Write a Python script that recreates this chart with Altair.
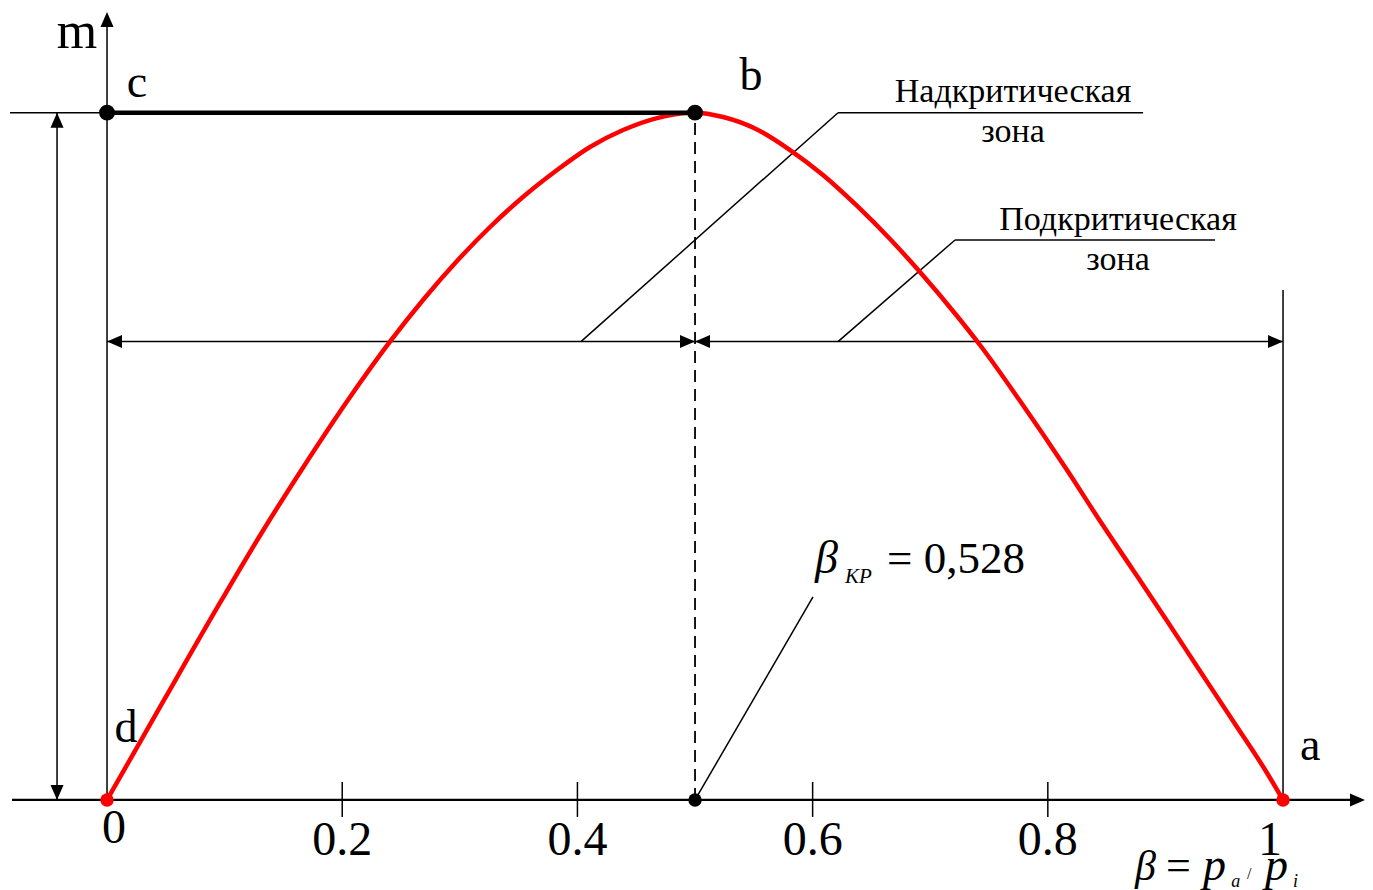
import altair as alt
import pandas as pd

# ---------------- data ----------------
# flow function m(β)
beta = [0.0, 0.0485, 0.0975, 0.1335, 0.1692, 0.2049, 0.2406, 0.2687, 0.2976, 0.3257,
        0.3537, 0.3827, 0.4107, 0.4388, 0.4677, 0.4932, 0.5,
        0.5238, 0.5527, 0.5808, 0.6088, 0.6378, 0.6658, 0.6913, 0.7228, 0.7423,
        0.7764, 0.8163, 0.8444, 0.8724, 0.9014, 0.9294, 0.9575, 0.9864, 1.0]
m = [0.0, 0.1455, 0.2910, 0.3943, 0.4904, 0.5820, 0.6668, 0.7275, 0.7842, 0.8337,
     0.8773, 0.9166, 0.9501, 0.9748, 0.9922, 0.9997, 1.0,
     0.9937, 0.9756, 0.9457, 0.9094, 0.8643, 0.8162, 0.7682, 0.7042, 0.6620,
     0.5805, 0.4801, 0.4059, 0.3346, 0.2604, 0.1877, 0.1149, 0.0393, 0.0]

beta_cr = 0.5     # point b and the dashed line
m_max = 1.0       # level of c-b
m_zone = 0.667    # level of the zone dimension arrows

tick_values = [0.2, 0.4, 0.6, 0.8]
tick_labels = ["0.2", "0.4", "0.6", "0.8"]

# ---------------- frame ----------------
W, H = 1373, 890
xs = alt.Scale(domain=[-0.091, 1.0765], nice=False, zero=False)
ys = alt.Scale(domain=[-0.131, 1.164], nice=False, zero=False)
FONT = "Liberation Serif"


def X(f="x"):
    return alt.X(f"{f}:Q", scale=xs, axis=None)


def Y(f="y"):
    return alt.Y(f"{f}:Q", scale=ys, axis=None)


def segs(rows):
    return pd.DataFrame(rows, columns=["x", "y", "x2", "y2"])


def rule_layer(df, width, dash=None):
    kw = dict(color="black", strokeWidth=width, strokeCap="butt")
    if dash:
        kw["strokeDash"] = dash
    return alt.Chart(df).mark_rule(**kw).encode(
        x=X(), y=Y(), x2=alt.X2("x2:Q"), y2=alt.Y2("y2:Q"))


def text_layer(df, align, italic=False):
    return alt.Chart(df).mark_text(
        align=align, baseline="alphabetic", font=FONT,
        fontStyle="italic" if italic else "normal", color="black"
    ).encode(x=X(), y=Y(), text="t:N", size=alt.Size("fs:Q", scale=None))


# thin construction lines
thin = segs([
    (0.0, 0.0, 0.0, 1.135),                    # m axis
    (-0.0825, m_max, 0.0, m_max),              # extension of c-b to the left
    (-0.0425, 0.0, -0.0425, m_max),            # vertical dimension
    (0.0, m_zone, 1.0, m_zone),                # zone dimensions
    (1.0, 0.0, 1.0, 0.742),                    # boundary at β = 1
    (0.403, m_zone, 0.6216, m_max),            # leader: supercritical
    (0.6216, m_max, 0.881, m_max),
    (0.6216, m_zone, 0.7211, 0.8148),          # leader: subcritical
    (0.7211, 0.8148, 0.9422, 0.8148),
    (beta_cr, 0.0, 0.6003, 0.2954),            # leader: β_KP
] + [(v, -0.0247, v, 0.0262) for v in tick_values])

axis_x = segs([(-0.0808, 0.0, 1.062, 0.0)])
dashed = segs([(beta_cr, 0.0, beta_cr, m_max)])
thick = segs([(0.0, m_max, beta_cr, m_max)])

# arrowheads: tip at the symbol origin
ARROW = {
    "right": "M0,0L-2,-0.87L-2,0.87Z",
    "left": "M0,0L2,-0.87L2,0.87Z",
    "up": "M0,0L-0.87,2L0.87,2Z",
    "down": "M0,0L-0.87,-2L0.87,-2Z",
}
arrows = pd.DataFrame([
    (1.0697, 0.0, ARROW["right"]),
    (0.0, 1.1465, ARROW["up"]),
    (-0.0425, m_max, ARROW["up"]),
    (-0.0425, 0.0, ARROW["down"]),
    (0.0, m_zone, ARROW["left"]),
    (beta_cr, m_zone, ARROW["right"]),
    (beta_cr, m_zone, ARROW["left"]),
    (1.0, m_zone, ARROW["right"]),
], columns=["x", "y", "shape"])

big_dots = pd.DataFrame({"x": [0.0, beta_cr], "y": [m_max, m_max]})
small_black = pd.DataFrame({"x": [beta_cr], "y": [0.0]})
red_dots = pd.DataFrame({"x": [0.0, 1.0], "y": [0.0, 0.0]})

curve = pd.DataFrame({"x": beta, "y": m})

# texts
center_txt = pd.DataFrame([
    ("m", -0.0255, 1.0941, 52),
    ("c", 0.0255, 1.0229, 46),
    ("b", 0.5476, 1.0330, 46),
    ("d", 0.0162, 0.0844, 46),
    ("a", 1.0230, 0.0582, 46),
    ("Надкритическая", 0.7704, 1.0156, 34),
    ("зона", 0.7704, 0.9574, 34),
    ("Подкритическая", 0.8597, 0.8293, 34),
    ("зона", 0.8597, 0.7711, 34),
    ("0", 0.006, -0.0626, 48),
    ("1", 0.989, -0.080, 48),
] + [(t, v, -0.080, 48) for t, v in zip(tick_labels, tick_values)],
    columns=["t", "x", "y", "fs"])

left_regular = pd.DataFrame([
    ("= 0,528", 0.6633, 0.3303, 45),
    ("=", 0.9005, -0.1170, 44),
    ("/", 0.9694, -0.1149, 16),
], columns=["t", "x", "y", "fs"])

left_italic = pd.DataFrame([
    ("β", 0.6020, 0.3303, 46),
    ("KP", 0.6276, 0.3157, 21),
    ("β", 0.8741, -0.1164, 42),
    ("p", 0.9320, -0.1164, 46),
    ("a", 0.9560, -0.1266, 18),
    ("p", 0.9847, -0.1164, 46),
    ("i", 1.0085, -0.1266, 18),
], columns=["t", "x", "y", "fs"])

layers = [
    rule_layer(thin, 1.5),
    rule_layer(axis_x, 2.2),
    rule_layer(dashed, 1.8, [12, 7]),
    alt.Chart(curve).mark_line(color="#ff0000", strokeWidth=4.5, interpolate="monotone")
    .encode(x=X(), y=Y()),
    rule_layer(thick, 4.5),
    alt.Chart(arrows).mark_point(filled=True, opacity=1, color="black", strokeWidth=0)
    .encode(x=X(), y=Y(), shape=alt.Shape("shape:N", scale=None), size=alt.value(225)),
    alt.Chart(big_dots).mark_circle(color="black", opacity=1, size=250).encode(x=X(), y=Y()),
    alt.Chart(small_black).mark_circle(color="black", opacity=1, size=180).encode(x=X(), y=Y()),
    alt.Chart(red_dots).mark_circle(color="#ff0000", opacity=1, size=180).encode(x=X(), y=Y()),
    text_layer(center_txt, "center"),
    text_layer(left_regular, "left"),
    text_layer(left_italic, "left", italic=True),
]

chart = alt.layer(*layers).properties(
    width=W, height=H, padding=0, background="white",
    autosize=alt.AutoSizeParams(type="none"),
).configure_view(stroke=None)

chart.save("out.html", embed_options={"renderer": "svg", "actions": False})
